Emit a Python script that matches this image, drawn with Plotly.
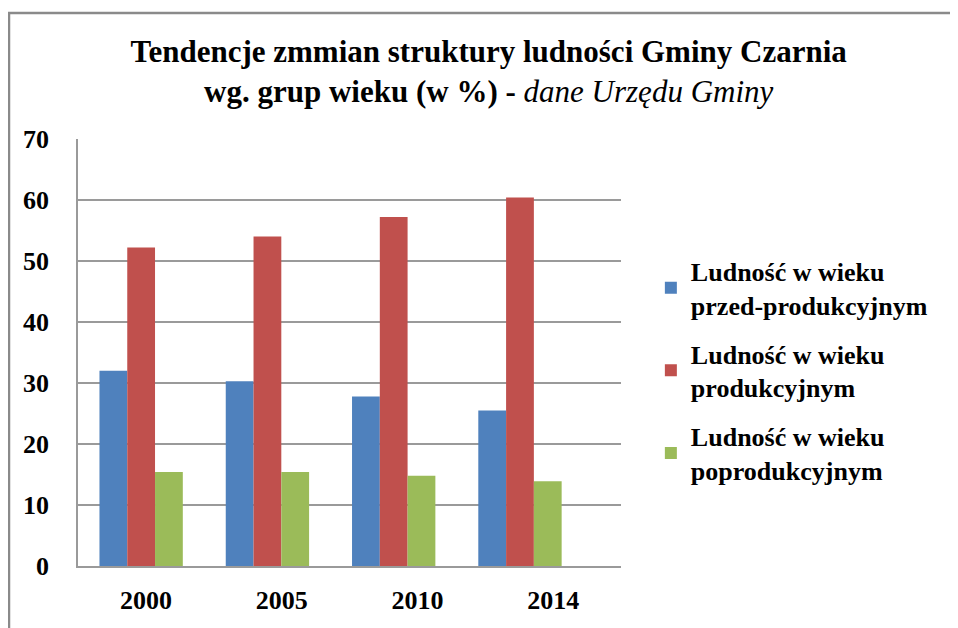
import plotly.graph_objects as go

years = ["2000", "2005", "2010", "2014"]
przed = [32.0, 30.3, 27.8, 25.5]
prod = [52.2, 54.0, 57.2, 60.4]
popr = [15.4, 15.4, 14.8, 13.9]
names = ["Ludność w wieku<br>przed-produkcyjnym",
         "Ludność w wieku<br>produkcyjnym",
         "Ludność w wieku<br>poprodukcyjnym"]
colors = ["#4F81BD", "#C0504D", "#9BBB59"]
yticks = [0, 10, 20, 30, 40, 50, 60, 70]

FONT = "Liberation Serif"
GRID = "#9a9a9a"

W, H = 950, 620
L, T, PW, PH = 70, 131, 543, 427

fig = go.Figure()
for i, (vals, nm, col) in enumerate(zip([przed, prod, popr], names, colors)):
    fig.add_trace(go.Bar(x=years, y=vals, name=nm, marker_color=col,
                         marker_line_width=0, legendgroup=str(i)))

fig.update_layout(
    width=W, height=H,
    margin=dict(l=L, r=W - L - PW, t=T, b=H - T - PH, autoexpand=False),
    paper_bgcolor="white", plot_bgcolor="white",
    barmode="group", bargap=0.34, bargroupgap=0,
    font=dict(family=FONT, color="#000000"),
    title=dict(
        text="<b>Tendencje zmmian struktury ludności Gminy Czarnia</b><br>"
             "<b>wg. grup wieku (w %) - </b><i>dane Urzędu Gminy</i>",
        x=0.506, xanchor="center", xref="container",
        y=1 - 54 / H, yanchor="top", yref="container",
        font=dict(family=FONT, size=31, color="#000000"),
    ),
    legend=dict(
        x=1.055, xanchor="left", y=0.458, yanchor="middle",
        font=dict(family=FONT, size=26, color="#000000", weight="bold"),
        tracegroupgap=12, bgcolor="rgba(0,0,0,0)",
    ),
    xaxis=dict(
        type="category", range=[-0.5, 3.8], showticklabels=False,
        showline=True, linecolor=GRID, linewidth=1.5, showgrid=False,
        ticks="", fixedrange=True,
    ),
    xaxis2=dict(
        overlaying="x", anchor="y", side="bottom", range=[-0.5, 3.5],
        tickvals=list(range(len(years))), ticktext=years,
        showgrid=False, showline=False, zeroline=False, ticks="",
        ticklabelstandoff=16,
        tickfont=dict(family=FONT, size=26, color="#000000", weight="bold"),
    ),
    yaxis=dict(
        range=[0, 70], tickvals=yticks, showgrid=True, gridcolor=GRID,
        gridwidth=1.5, showline=True, linecolor=GRID, linewidth=1.5,
        zeroline=False, ticks="", ticklabelstandoff=22,
        tickfont=dict(family=FONT, size=26, color="#000000", weight="bold"),
    ),
    shapes=[dict(type="rect", xref="paper", yref="paper",
                 x0=(1 - L) / PW, x1=2.0, y0=-0.5, y1=(T + PH - 5) / PH,
                 line=dict(color="#8a8a8a", width=2.5), layer="below")],
)
# invisible trace to activate the label axis
fig.add_trace(go.Scatter(x=[0], y=[0], xaxis="x2", mode="markers",
                         marker=dict(opacity=0), showlegend=False, hoverinfo="skip"))

fig.write_html("out.html")
